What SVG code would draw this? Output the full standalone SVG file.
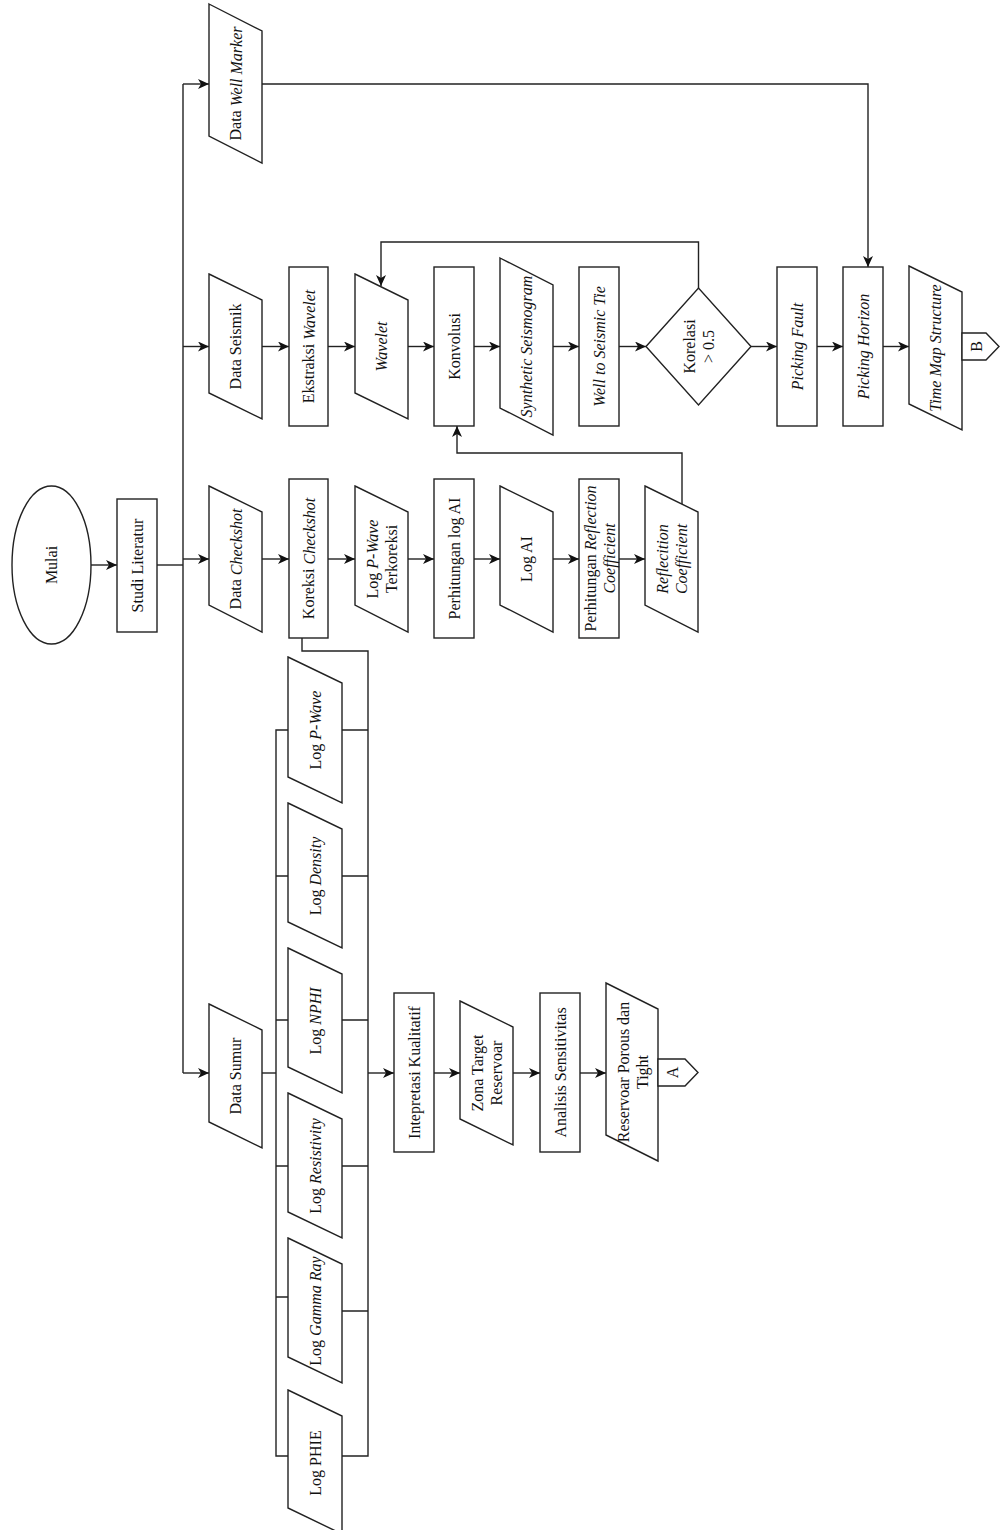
<svg xmlns="http://www.w3.org/2000/svg" width="1000" height="1530" viewBox="0 0 1000 1530">
<style>
.s{fill:#fff;stroke:#222;stroke-width:1.4}
.c{fill:none;stroke:#222;stroke-width:1.4}
.a{fill:none;stroke:#222;stroke-width:1.4;marker-end:url(#ah)}
text{font-family:"Liberation Serif","Times New Roman",serif;font-size:16px;fill:#111;text-anchor:middle;dominant-baseline:central}
.i{font-style:italic}
</style>
<defs>
<marker id="ah" markerWidth="12" markerHeight="12" refX="11" refY="5" orient="auto" markerUnits="userSpaceOnUse">
<path d="M0,0 L11,5 L0,10 L3,5 Z" fill="#111"/>
</marker>
</defs>
<rect width="1000" height="1530" fill="#fff"/>
<g id="connectors">
<path class="a" d="M91,565 H117"/>
<path class="c" d="M157,565 H183"/>
<path class="c" d="M183,84 V1073"/>
<path class="a" d="M183,84 H209"/>
<path class="a" d="M183,346.5 H209"/>
<path class="a" d="M183,559 H209"/>
<path class="a" d="M183,1073 H209"/>
<path class="a" d="M262,346.5 H289"/>
<path class="a" d="M328,346.5 H355"/>
<path class="a" d="M408,346.5 H434"/>
<path class="a" d="M474,346.5 H500"/>
<path class="a" d="M553,346.5 H579"/>
<path class="a" d="M619,346.5 H646"/>
<path class="a" d="M751,346.5 H777"/>
<path class="a" d="M817,346.5 H843"/>
<path class="a" d="M883,346.5 H909"/>
<path class="a" d="M698.5,288 V242 H381 V286"/>
<path class="a" d="M262,84 H868 V267"/>
<path class="a" d="M262,559 H289"/>
<path class="a" d="M328,559 H355"/>
<path class="a" d="M408,559 H434"/>
<path class="a" d="M474,559 H500"/>
<path class="a" d="M553,559 H579"/>
<path class="a" d="M619,559 H645"/>
<path class="a" d="M682,504 V453 H457 V426"/>
<path class="c" d="M302,638 V651 H368 V1456 H342"/>
<path class="c" d="M342,730 H368 M342,876 H368 M342,1020 H368 M342,1166 H368 M342,1311 H368"/>
<path class="c" d="M288,730 H276 V1456 H288"/>
<path class="c" d="M276,876 H288 M276,1020 H288 M276,1166 H288 M276,1297 H288"/>
<path class="c" d="M262,1073 H276"/>
<path class="a" d="M368,1073 H394"/>
<path class="a" d="M434,1073 H460"/>
<path class="a" d="M513,1073 H540"/>
<path class="a" d="M580,1073 H606"/>
</g>
<g id="mulai"><ellipse class="s" cx="51.5" cy="565" rx="39.5" ry="79"/><text transform="translate(51.5,565) rotate(-90)">Mulai</text></g>
<g id="studi-literatur"><rect class="s" x="117" y="499" width="40" height="133"/><text transform="translate(137,565.5) rotate(-90)">Studi Literatur</text></g>
<g id="data-well-marker"><polygon class="s" points="209,4 262,31 262,163 209,136"/><text transform="translate(235.5,83.5) rotate(-90)">Data <tspan class="i">Well Marker</tspan></text></g>
<g id="data-seismik"><polygon class="s" points="209,274 262,300 262,419 209,393"/><text transform="translate(235.5,346.5) rotate(-90)">Data Seismik</text></g>
<g id="ekstraksi-wavelet"><rect class="s" x="289" y="267" width="39" height="159"/><text transform="translate(308.5,346.5) rotate(-90)">Ekstraksi <tspan class="i">Wavelet</tspan></text></g>
<g id="wavelet"><polygon class="s" points="355,274 408,300 408,419 355,393"/><text class="i" transform="translate(381.5,346.5) rotate(-90)">Wavelet</text></g>
<g id="konvolusi"><rect class="s" x="434" y="267" width="40" height="159"/><text transform="translate(454,346.5) rotate(-90)">Konvolusi</text></g>
<g id="synthetic-seismogram"><polygon class="s" points="500,258 553,285 553,435 500,408"/><text class="i" transform="translate(526.5,346.5) rotate(-90)">Synthetic Seismogram</text></g>
<g id="well-to-seismic-tie"><rect class="s" x="579" y="267" width="40" height="159"/><text class="i" transform="translate(599,346.5) rotate(-90)">Well to Seismic Tie</text></g>
<g id="korelasi"><polygon class="s" points="646,346.5 698.5,288 751,346.5 698.5,405"/><text transform="translate(698.5,346.5) rotate(-90)"><tspan x="0" y="-9.5">Korelasi</tspan><tspan x="0" y="9.5">&gt; 0.5</tspan></text></g>
<g id="picking-fault"><rect class="s" x="777" y="267" width="40" height="159"/><text class="i" transform="translate(797,346.5) rotate(-90)">Picking Fault</text></g>
<g id="picking-horizon"><rect class="s" x="843" y="267" width="40" height="159"/><text class="i" transform="translate(863,346.5) rotate(-90)">Picking Horizon</text></g>
<g id="time-map-structure"><polygon class="s" points="909,266 962,292 962,430 909,404"/><text class="i" transform="translate(935.5,348) rotate(-90)">Time Map Structure</text></g>
<g id="connector-b"><polygon class="s" points="962,333 986,333 999,346.5 986,360 962,360"/><text transform="translate(976,346.5) rotate(-90)">B</text></g>
<g id="data-checkshot"><polygon class="s" points="209,486 262,512 262,632 209,605"/><text transform="translate(235.5,559) rotate(-90)">Data <tspan class="i">Checkshot</tspan></text></g>
<g id="koreksi-checkshot"><rect class="s" x="289" y="479" width="39" height="159"/><text transform="translate(308.5,558.5) rotate(-90)">Koreksi <tspan class="i">Checkshot</tspan></text></g>
<g id="log-pwave-terkoreksi"><polygon class="s" points="355,486 408,512 408,632 355,605"/><text transform="translate(381.5,559) rotate(-90)"><tspan x="0" y="-9.5">Log <tspan class="i">P-Wave</tspan></tspan><tspan x="0" y="9.5">Terkoreksi</tspan></text></g>
<g id="perhitungan-log-ai"><rect class="s" x="434" y="479" width="40" height="159"/><text transform="translate(454,558.5) rotate(-90)">Perhitungan log AI</text></g>
<g id="log-ai"><polygon class="s" points="500,486 553,512 553,632 500,605"/><text transform="translate(526.5,559) rotate(-90)">Log AI</text></g>
<g id="perhitungan-rc"><rect class="s" x="579" y="479" width="40" height="159"/><text transform="translate(599,558.5) rotate(-90)"><tspan x="0" y="-9.5">Perhitungan <tspan class="i">Reflection</tspan></tspan><tspan class="i" x="0" y="9.5">Coefficient</tspan></text></g>
<g id="reflecition-coefficient"><polygon class="s" points="645,486 698,512 698,632 645,605"/><text class="i" transform="translate(671.5,559) rotate(-90)"><tspan x="0" y="-9.5">Reflecition</tspan><tspan x="0" y="9.5">Coefficient</tspan></text></g>
<g id="data-sumur"><polygon class="s" points="209,1004 262,1030 262,1148 209,1122"/><text transform="translate(235.5,1076) rotate(-90)">Data Sumur</text></g>
<g id="log-pwave"><polygon class="s" points="288,657 342,683 342,803 288,777"/><text transform="translate(315,730) rotate(-90)">Log <tspan class="i">P-Wave</tspan></text></g>
<g id="log-density"><polygon class="s" points="288,803 342,829 342,948 288,922"/><text transform="translate(315,876) rotate(-90)">Log <tspan class="i">Density</tspan></text></g>
<g id="log-nphi"><polygon class="s" points="288,948 342,974 342,1093 288,1067"/><text transform="translate(315,1021) rotate(-90)">Log <tspan class="i">NPHI</tspan></text></g>
<g id="log-resistivity"><polygon class="s" points="288,1093 342,1119 342,1238 288,1212"/><text transform="translate(315,1166) rotate(-90)">Log <tspan class="i">Resistivity</tspan></text></g>
<g id="log-gamma-ray"><polygon class="s" points="288,1238 342,1264 342,1383 288,1357"/><text transform="translate(315,1311) rotate(-90)">Log <tspan class="i">Gamma Ray</tspan></text></g>
<g id="log-phie"><polygon class="s" points="288,1390 342,1416 342,1534 288,1508"/><text transform="translate(315,1463) rotate(-90)">Log PHIE</text></g>
<g id="intepretasi-kualitatif"><rect class="s" x="394" y="993" width="40" height="159"/><text transform="translate(414,1072.5) rotate(-90)">Intepretasi Kualitatif</text></g>
<g id="zona-target-reservoar"><polygon class="s" points="460,1001 513,1027 513,1145 460,1119"/><text transform="translate(486.5,1073) rotate(-90)"><tspan x="0" y="-9.5">Zona Target</tspan><tspan x="0" y="9.5">Reservoar</tspan></text></g>
<g id="analisis-sensitivitas"><rect class="s" x="540" y="993" width="40" height="159"/><text transform="translate(560,1072.5) rotate(-90)">Analisis Sensitivitas</text></g>
<g id="reservoar-porous-tight"><polygon class="s" points="606,983 658,1009 658,1161 606,1135"/><text transform="translate(632,1072) rotate(-90)"><tspan x="0" y="-9.5">Reservoar Porous dan</tspan><tspan x="0" y="9.5">Tight</tspan></text></g>
<g id="connector-a"><polygon class="s" points="658,1059 685,1059 698,1072.5 685,1086 658,1086"/><text transform="translate(672,1072.5) rotate(-90)">A</text></g>
</svg>
